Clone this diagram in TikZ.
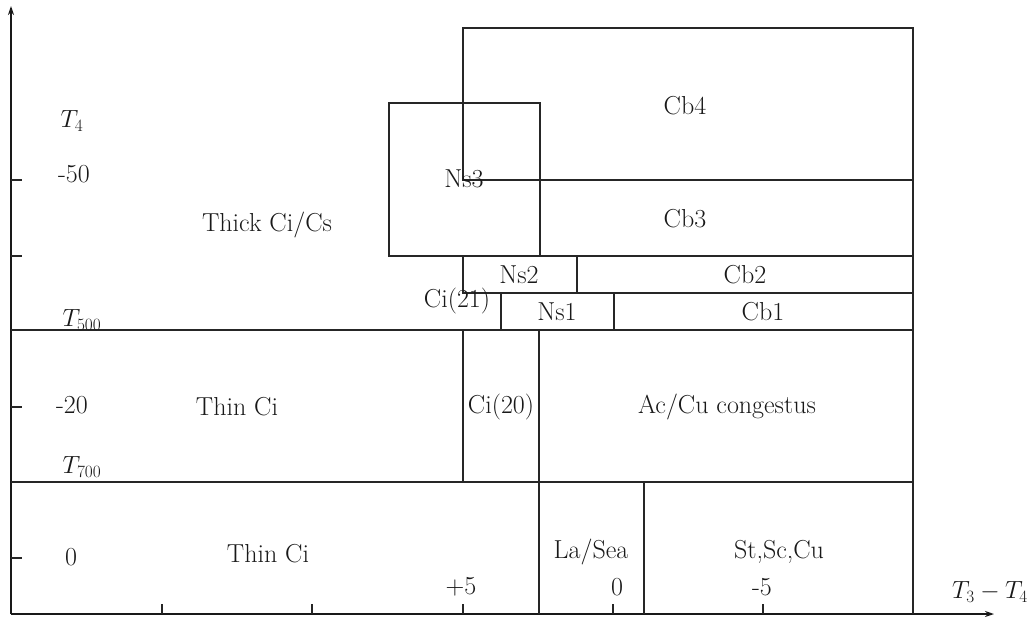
\documentclass[tikz,border=0pt]{standalone}
\usetikzlibrary{arrows.meta}
\begin{document}
\begin{tikzpicture}[x=1pt,y=-1pt,
  box/.style={draw=black!85,line width=1.3pt},
  lbl/.style={font=\fontsize{26}{30}\selectfont, inner sep=0pt, text=black!90},
  axis/.style={draw=black!90,line width=1.9pt,-{Stealth[length=9pt,width=6pt]}},
  tickmark/.style={draw=black!85,line width=1.3pt}]
\useasboundingbox (0,0) rectangle (1036,616);
% axes
\coordinate (O) at (11,614);
\coordinate (ytop) at (11,6);
\coordinate (xend) at (994,614);
\draw[axis] (O) -- (ytop);
\draw[axis] (O) -- (xend);
% y ticks
\foreach \yy/\nm in {180/ya,256/yb,407/yc,558/yd}{
  \coordinate (\nm0) at (11,\yy); \coordinate (\nm1) at (22,\yy);
  \draw[tickmark] (\nm0) -- (\nm1);}
% x ticks
\foreach \xx/\nm in {162/xa,312/xb,463/xc,613/xd,763/xe}{
  \coordinate (\nm0) at (\xx,614); \coordinate (\nm1) at (\xx,604);
  \draw[tickmark] (\nm0) -- (\nm1);}
% regions
\draw[box] (463,28) rectangle (913,180);   % Cb4
\draw[box] (389,103) rectangle (540,256);  % Ns3
\draw[box] (540,180) rectangle (913,256);  % Cb3
\draw[box] (463,256) rectangle (577,293);  % Ns2
\draw[box] (577,256) rectangle (913,293);  % Cb2
\draw[box] (501,293) rectangle (614,330);  % Ns1
\draw[box] (614,293) rectangle (913,330);  % Cb1
\draw[box] (11,330) -- (501,330);
\draw[box] (463,330) rectangle (539,482);  % Ci(20)
\draw[box] (539,330) rectangle (913,482);  % Ac/Cu
\draw[box] (11,482) -- (463,482);
\draw[box] (539,482) -- (539,614);
\draw[box] (644,482) -- (644,614);
\draw[box] (913,482) -- (913,614);
% labels
\node[lbl] (t4) at (72,121) {$T_4$};
\node[lbl] (m50) at (74,174) {-50};
\node[lbl] (thick) at (267,225) {Thick Ci/Cs};
\node[lbl] (t500) at (82,320) {$T_{500}$};
\node[lbl] (m20) at (72,405) {-20};
\node[lbl] (thin1) at (237,407) {Thin Ci};
\node[lbl] (t700) at (82,467) {$T_{700}$};
\node[lbl] (z0) at (71,557) {0};
\node[lbl] (thin2) at (268,554) {Thin Ci};
\node[lbl] (p5) at (461,587) {+5};
\node[lbl] (x0) at (617,587) {0};
\node[lbl] (xm5) at (762,587) {-5};
\node[lbl] (t34) at (990,592) {$T_3-T_4$};
\node[lbl] (cb4) at (685,106) {Cb4};
\node[lbl] (ns3) at (464,179) {Ns3};
\node[lbl] (cb3) at (685,219) {Cb3};
\node[lbl] (ns2) at (519,275) {Ns2};
\node[lbl] (cb2) at (745,275) {Cb2};
\node[lbl] (ci21) at (457,301) {Ci(21)};
\node[lbl] (ns1) at (557,312) {Ns1};
\node[lbl] (cb1) at (763,312) {Cb1};
\node[lbl] (ci20) at (501,407) {Ci(20)};
\node[lbl] (accu) at (727,407) {Ac/Cu congestus};
\node[lbl] (lasea) at (591,552) {La/Sea};
\node[lbl] (stsc) at (779,552) {St,Sc,Cu};
\end{tikzpicture}
\end{document}
